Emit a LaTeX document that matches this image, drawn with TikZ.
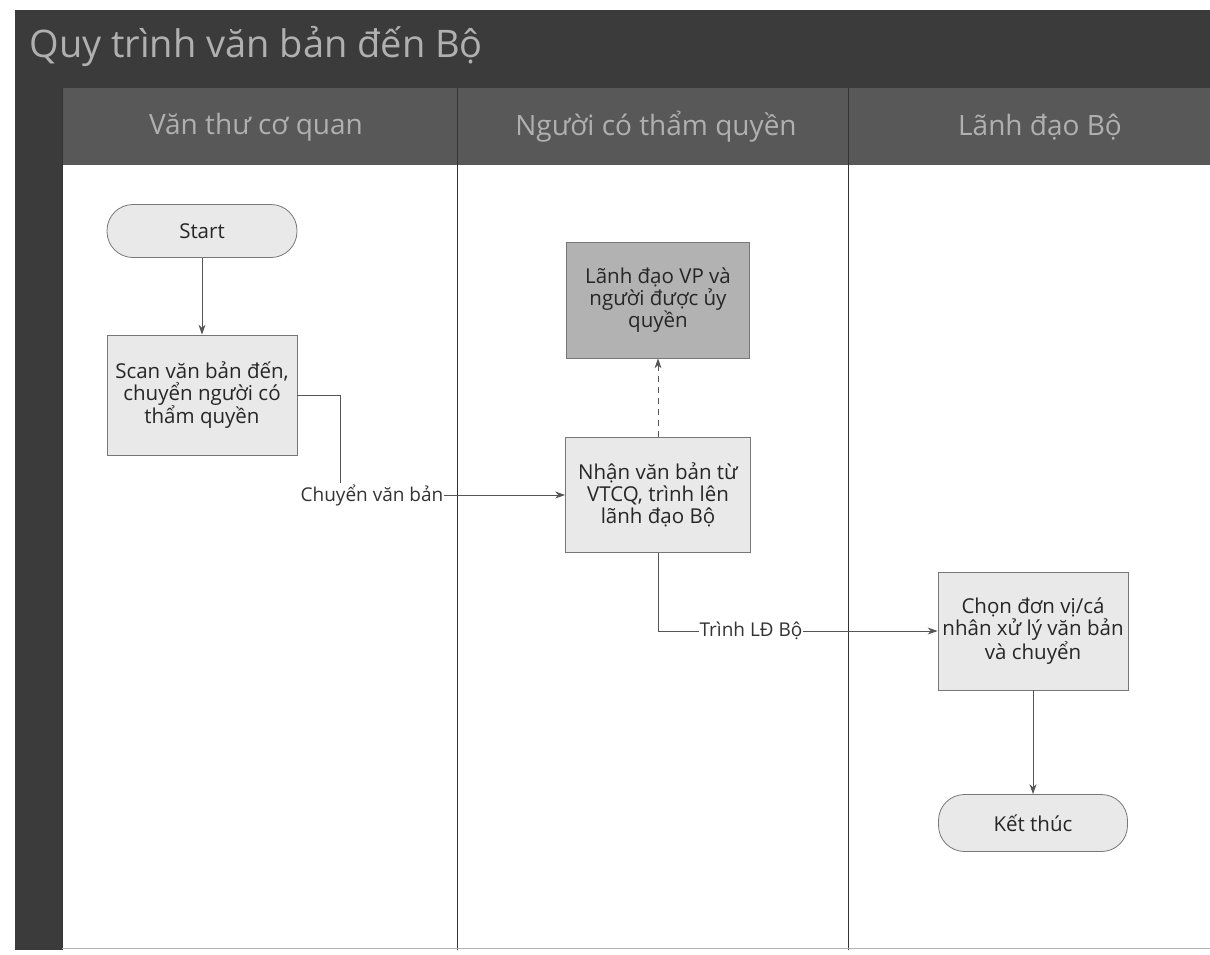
\documentclass[tikz,border=0pt]{standalone}
\usepackage{fontspec}
\setmainfont{Open Sans}
\usetikzlibrary{arrows.meta}
\definecolor{band}{HTML}{3B3B3B}
\definecolor{hdr}{HTML}{585858}
\definecolor{hdrtext}{HTML}{B0B0B0}
\definecolor{boxfill}{HTML}{E9E9E9}
\definecolor{darkbox}{HTML}{B2B2B2}
\definecolor{linec}{HTML}{555555}
\tikzset{
  procbox/.style={draw=linec!80, line width=0.8pt, fill=boxfill, align=center,
    font=\fontsize{20.5}{22}\selectfont, text=black!85, inner sep=2pt},
  termbox/.style={procbox, rounded corners=26pt},
  conn/.style={draw=linec, line width=0.9pt, -{Stealth[length=10pt,width=7pt]}},
  elabel/.style={fill=white, inner sep=1pt, font=\fontsize{19}{21.5}\selectfont, text=black!80},
  lanehead/.style={font=\fontsize{28}{30}\selectfont, text=hdrtext},
  laneline/.style={draw=black!80, line width=0.8pt}
}
\begin{document}
\begin{tikzpicture}[x=1pt,y=-1pt]
\useasboundingbox (0,0) rectangle (1210,954);
% bands
\fill[band] (15,10) rectangle (1210,88);
\fill[hdr] (62,88) rectangle (1210,165);
\fill[band] (15,88) rectangle (62,950);
\draw[laneline] (62,88) -- (62,950);
\draw[laneline] (457,88) -- (457,950);
\draw[laneline] (848,88) -- (848,950);
\draw[draw=black!30, line width=0.6pt] (62,948) -- (1210,948);
% title and headers
\node[anchor=west, font=\fontsize{38}{40}\selectfont, text=hdrtext] (title) at (26,46) {Quy trình văn bản đến Bộ};
\node[lanehead] (h1) at (256,127) {Văn thư cơ quan};
\node[lanehead] (h2) at (656,127) {Người có thẩm quyền};
\node[lanehead] (h3) at (1040,127) {Lãnh đạo Bộ};
% nodes
\node[termbox, minimum width=190, minimum height=53] (start) at (202,231) {Start};
\node[procbox, minimum width=190, minimum height=120] (scan) at (202,395) {Scan văn bản đến,\\chuyển người có\\thẩm quyền};
\node[procbox, fill=darkbox, minimum width=183, minimum height=116] (lanhvp) at (658,300) {Lãnh đạo VP và\\người được ủy\\quyền};
\node[procbox, minimum width=185, minimum height=115] (nhan) at (658,495) {Nhận văn bản từ\\VTCQ, trình lên\\lãnh đạo Bộ};
\node[procbox, minimum width=190, minimum height=118] (chon) at (1033,631) {Chọn đơn vị/cá\\nhân xử lý văn bản\\và chuyển};
\node[termbox, minimum width=189, minimum height=57] (ket) at (1033,823) {Kết thúc};
% connectors
\coordinate (c1) at (340,495);
\draw[conn] (start) -- (scan);
\draw[conn] (scan.east) -| (c1) -- (nhan.west);
\node[elabel] (l1) at (372,495) {Chuyển văn bản};
\draw[conn, dashed, dash pattern=on 6pt off 5pt] (nhan.north) -- (lanhvp.south);
\draw[conn] (nhan.south) |- (chon.west);
\node[elabel] (l2) at (751,631) {Trình LĐ Bộ};
\draw[conn] (chon) -- (ket);
\end{tikzpicture}
\end{document}
